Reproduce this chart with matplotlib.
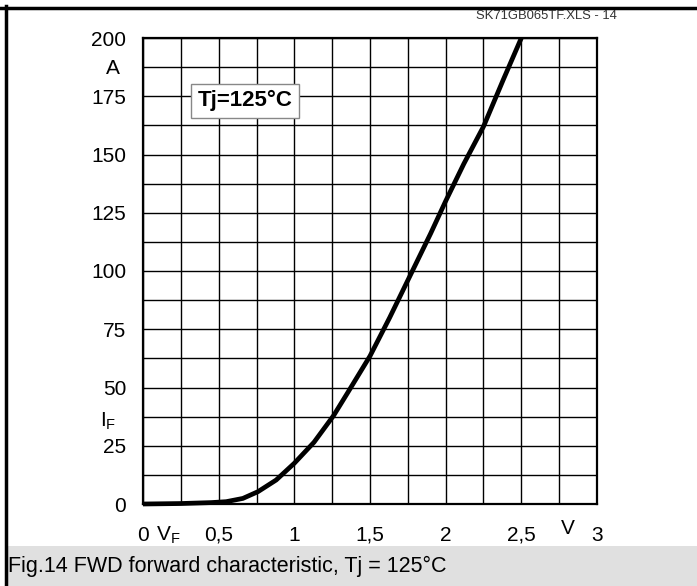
import matplotlib
matplotlib.use('Agg')
import matplotlib.pyplot as plt
from matplotlib.lines import Line2D
from matplotlib.patches import Rectangle
import numpy as np

plt.rcParams['font.family'] = ['Liberation Sans', 'DejaVu Sans']

# forward characteristic
vf = [0, 0.25, 0.45, 0.55, 0.66, 0.76, 0.88, 1.0, 1.13, 1.26, 1.35, 1.5,
      1.63, 1.78, 1.9, 2.0, 2.12, 2.25, 2.38, 2.5]
i_f = [0, 0.2, 0.6, 1, 2.4, 5.3, 10.3, 17.5, 26.5, 38, 47.5, 63.5,
       80, 100, 116, 130, 146, 162, 182, 200]

xticks = [0, 0.5, 1, 1.5, 2, 2.5, 3]
xticklabels = ['0', '0,5', '1', '1,5', '2', '2,5', '3']
yticks = [0, 25, 50, 75, 100, 125, 150, 175, 200]

W, H = 697, 586
fig = plt.figure(figsize=(W / 100, H / 100), dpi=100)

def px(x, y):
    return x / W, 1 - y / H

ax = fig.add_axes([143 / W, 1 - 504 / H, 454 / W, 466 / H])
ax.plot(vf, i_f, color='black', lw=3.4, solid_capstyle='butt', solid_joinstyle='round',
        zorder=3, clip_on=False)
ax.set_xlim(0, 3)
ax.set_ylim(0, 200)
ax.set_xticks(xticks)
ax.set_xticklabels(xticklabels)
ax.set_xticks(np.arange(0, 3.01, 0.25), minor=True)
ax.set_yticks(yticks)
ax.set_yticks(np.arange(0, 200.1, 12.5), minor=True)
ax.grid(which='both', color='black', lw=1.0)
ax.set_axisbelow(True)
ax.tick_params(which='both', length=0, labelsize=15)
ax.tick_params(axis='x', pad=15.5)
ax.tick_params(axis='y', pad=12)
for s in ax.spines.values():
    s.set_linewidth(1.6)

ax.text(0.675, 173, 'Tj=125\u00b0C', fontsize=16, fontweight='bold',
        va='center', ha='center', zorder=4,
        bbox=dict(boxstyle='square,pad=0.3', fc='white', ec='#888888', lw=1.0))

fig.text(*px(112.5, 68), 'A', fontsize=15, ha='center', va='center')
fig.text(*px(108, 421), r'$\mathregular{I_F}$', fontsize=15, ha='center', va='center')
fig.text(*px(168, 535), r'$\mathregular{V_F}$', fontsize=15, ha='center', va='center')
fig.text(*px(568, 528), 'V', fontsize=15, ha='center', va='center')
fig.text(*px(617, 16), 'SK71GB065TF.XLS - 14', fontsize=9.4, ha='right', va='center',
         color='#333333')

# frame and caption
fig.patches.append(Rectangle(px(7, 586), (W - 7) / W, 40 / H, transform=fig.transFigure,
                             fc='#e0e0e0', ec='none', zorder=0))
fig.lines.append(Line2D([0, 1], [1 - 7.5 / H] * 2, transform=fig.transFigure,
                        color='black', lw=2.5))
fig.lines.append(Line2D([5.5 / W] * 2, [0, 1 - 6 / H], transform=fig.transFigure,
                        color='black', lw=2.5))
fig.text(*px(8, 566), 'Fig.14 FWD forward characteristic, Tj = 125\u00b0C', fontsize=15.5,
         ha='left', va='center')

fig.savefig('out.png', dpi=100)
